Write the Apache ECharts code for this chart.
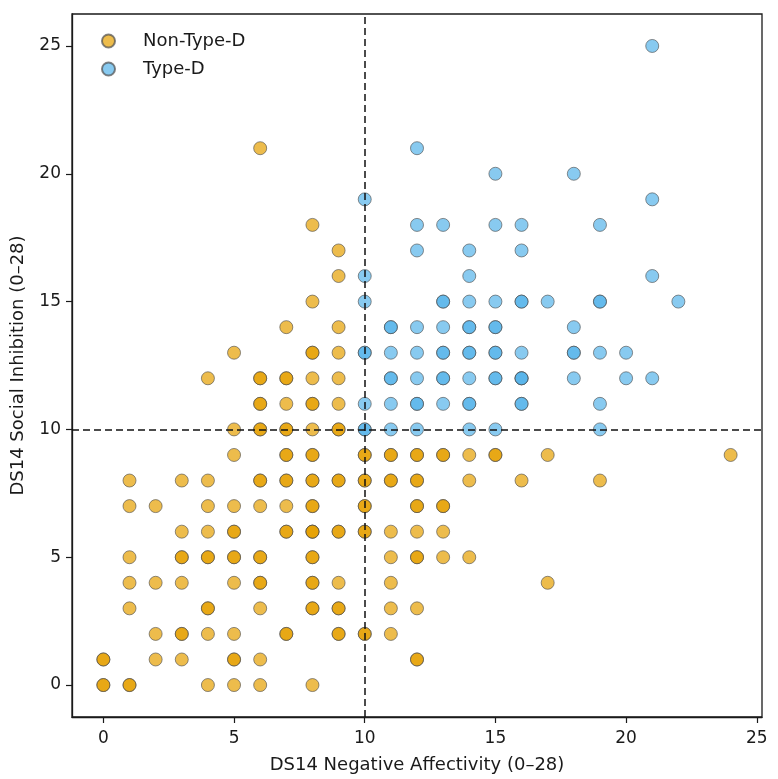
<!DOCTYPE html>
<html>
<head>
<meta charset="utf-8">
<script src="https://cdn.jsdelivr.net/npm/echarts@6/dist/echarts.min.js"></script>
<style>
  html, body { margin: 0; padding: 0; background: #fff; }
  #chart { width: 778px; height: 779px; }
</style>
</head>
<body>
<div id="chart"></div>
<script>
// [negative affectivity, social inhibition, number of people at that point]
const nonTypeD = [
  [6, 21, 1], [8, 18, 1], [9, 17, 1], [9, 16, 1], [8, 15, 1],
  [7, 14, 1], [9, 14, 1],
  [5, 13, 1], [8, 13, 2], [9, 13, 1],
  [4, 12, 1], [6, 12, 2], [7, 12, 2], [8, 12, 1], [9, 12, 1],
  [6, 11, 2], [7, 11, 1], [8, 11, 2], [9, 11, 1],
  [5, 10, 1], [6, 10, 2], [7, 10, 2], [8, 10, 1], [9, 10, 2],
  [5, 9, 1], [7, 9, 2], [8, 9, 2], [10, 9, 2], [11, 9, 2], [12, 9, 2], [13, 9, 2],
  [14, 9, 1], [15, 9, 2], [17, 9, 1], [24, 9, 1],
  [1, 8, 1], [3, 8, 1], [4, 8, 1], [6, 8, 2], [7, 8, 2], [8, 8, 2], [9, 8, 2],
  [10, 8, 2], [11, 8, 2], [12, 8, 2], [14, 8, 1], [16, 8, 1], [19, 8, 1],
  [1, 7, 1], [2, 7, 1], [4, 7, 1], [5, 7, 1], [6, 7, 1], [7, 7, 1], [8, 7, 2],
  [10, 7, 2], [12, 7, 2], [13, 7, 2],
  [3, 6, 1], [4, 6, 1], [5, 6, 2], [7, 6, 2], [8, 6, 3], [9, 6, 2], [10, 6, 2],
  [11, 6, 1], [12, 6, 1], [13, 6, 1],
  [1, 5, 1], [3, 5, 2], [4, 5, 2], [5, 5, 2], [6, 5, 2], [8, 5, 2], [11, 5, 1],
  [12, 5, 2], [13, 5, 1], [14, 5, 1],
  [1, 4, 1], [2, 4, 1], [3, 4, 1], [5, 4, 1], [6, 4, 2], [8, 4, 2], [9, 4, 1],
  [11, 4, 1], [17, 4, 1],
  [1, 3, 1], [4, 3, 2], [6, 3, 1], [8, 3, 2], [9, 3, 2], [11, 3, 1], [12, 3, 1],
  [2, 2, 1], [3, 2, 2], [4, 2, 1], [5, 2, 1], [7, 2, 2], [9, 2, 2], [10, 2, 2], [11, 2, 1],
  [0, 1, 2], [2, 1, 1], [3, 1, 1], [5, 1, 2], [6, 1, 1], [12, 1, 2],
  [0, 0, 2], [1, 0, 2], [4, 0, 1], [5, 0, 1], [6, 0, 1], [8, 0, 1]
]

const typeD = [
  [21, 25, 1], [12, 21, 1], [15, 20, 1], [18, 20, 1], [10, 19, 1], [21, 19, 1],
  [12, 18, 1], [13, 18, 1], [15, 18, 1], [16, 18, 1], [19, 18, 1],
  [12, 17, 1], [14, 17, 1], [16, 17, 1],
  [10, 16, 1], [14, 16, 1], [21, 16, 1],
  [10, 15, 1], [13, 15, 2], [14, 15, 1], [15, 15, 1], [16, 15, 2], [17, 15, 1],
  [19, 15, 2], [22, 15, 1],
  [11, 14, 2], [12, 14, 1], [13, 14, 1], [14, 14, 2], [15, 14, 2], [18, 14, 1],
  [10, 13, 2], [11, 13, 1], [12, 13, 1], [13, 13, 2], [14, 13, 2], [15, 13, 2],
  [16, 13, 1], [18, 13, 2], [19, 13, 1], [20, 13, 1],
  [11, 12, 2], [12, 12, 1], [13, 12, 2], [14, 12, 1], [15, 12, 2], [16, 12, 3],
  [18, 12, 1], [20, 12, 1], [21, 12, 1],
  [10, 11, 1], [11, 11, 1], [12, 11, 2], [13, 11, 1], [14, 11, 2], [16, 11, 2], [19, 11, 1],
  [10, 10, 2], [11, 10, 1], [12, 10, 1], [14, 10, 1], [15, 10, 1], [19, 10, 1]
]

const tickValues = [0, 5, 10, 15, 20, 25]
const cutoff = 10

// one point per person, so overlapping people show darker
function expand(points) {
  const out = []
  points.forEach(([x, y, n]) => {
    for (let i = 0; i < n; i++) out.push([x, y])
  })
  return out
}

const font = 'DejaVu Sans'
const ink = '#1a1a1a'

const chart = echarts.init(document.getElementById('chart'))

const axisCommon = {
  type: 'value',
  nameLocation: 'middle',
  nameTextStyle: { fontFamily: font, fontSize: 18, color: ink },
  axisLine: { show: true, onZero: false, lineStyle: { color: ink, width: 1.3 } },
  axisTick: { show: true, customValues: tickValues, length: 6, lineStyle: { color: ink, width: 1.2 } },
  axisLabel: { customValues: tickValues, fontFamily: font, fontSize: 17, color: ink },
  splitLine: { show: false },
}

const pointStyle = (color) => ({
  color: color,
  opacity: 0.7,
  borderColor: '#4d4d4d',
  borderWidth: 0.9,
})

chart.setOption({
  animation: false,
  backgroundColor: '#fff',
  grid: {
    left: 72, right: 16, top: 14, bottom: 62,
    show: true, borderColor: ink, borderWidth: 1.3, backgroundColor: 'transparent',
  },
  legend: {
    data: ['Non-Type-D', 'Type-D'],
    orient: 'vertical',
    left: 96,
    top: 27,
    itemWidth: 13,
    itemHeight: 13,
    itemGap: 10,
    textStyle: { fontFamily: font, fontSize: 18, color: ink, padding: [0, 0, 0, 23] },
  },
  xAxis: {
    ...axisCommon,
    name: 'DS14 Negative Affectivity (0–28)',
    nameGap: 39,
    min: -1.2,
    max: 25.2,
    axisLabel: { ...axisCommon.axisLabel, margin: 13 },
  },
  yAxis: {
    ...axisCommon,
    name: 'DS14 Social Inhibition (0–28)',
    nameGap: 45,
    min: -1.25,
    max: 26.25,
    axisLabel: { ...axisCommon.axisLabel, margin: 11 },
  },
  series: [
    {
      name: 'Non-Type-D',
      type: 'scatter',
      symbolSize: 13,
      data: expand(nonTypeD),
      itemStyle: pointStyle('#E69F00'),
    },
    {
      name: 'Type-D',
      type: 'scatter',
      symbolSize: 13,
      data: expand(typeD),
      itemStyle: pointStyle('#56B4E9'),
    },
    {
      name: 'cutoffs',
      type: 'line',
      data: [],
      z: 5,
      markLine: {
        silent: true,
        symbol: 'none',
        label: { show: false },
        lineStyle: { color: '#111', width: 1.5, type: [7, 4] },
        data: [{ xAxis: cutoff }, { yAxis: cutoff }],
      },
    },
  ],
})
</script>
</body>
</html>
